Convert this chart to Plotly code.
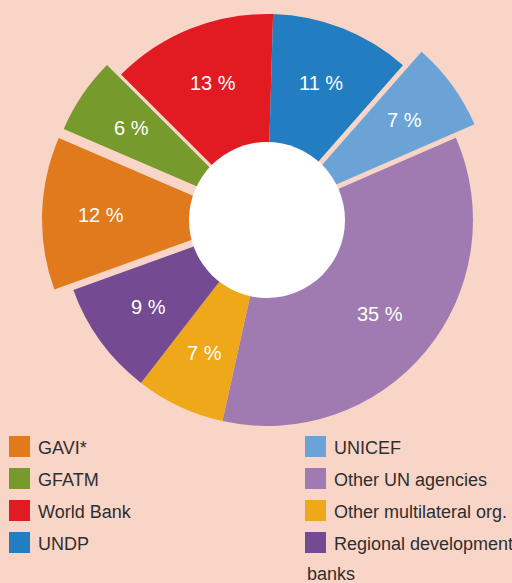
import math

import plotly.graph_objects as go

# ---------------------------------------------------------------
# data

labels = [
    "GAVI*",
    "GFATM",
    "World Bank",
    "UNDP",
    "UNICEF",
    "Other UN agencies",
    "Other multilateral org.",
    "Regional development banks",
]
shares = [12, 6, 13, 11, 7, 35, 7, 9]
colors = [
    "#e07a1c",
    "#769b2c",
    "#e21b23",
    "#237dc1",
    "#6ba3d6",
    "#a07bb1",
    "#efa81a",
    "#744a93",
]
# slices pulled out of the ring, offset in px
pulled = {"GAVI*": 19, "GFATM": 17, "UNICEF": 23}

# ---------------------------------------------------------------
# geometry / style

W, H = 512, 583
CX, CY, R = 267, 220, 206
HOLE_R = 78
START = 1.7          # UNDP starts just right of 12 o'clock
LABEL_R = 147
BG = "#f9d5c7"
FONT = "Liberation Sans, Arial, sans-serif"
CLEAR = "rgba(0,0,0,0)"

total = sum(shares)
rotation = START - 360 * sum(shares[:labels.index("UNDP")]) / total

mids = []
acc = 0
for v in shares:
    mids.append(math.radians(rotation + 360 * (acc + v / 2) / total))
    acc += v


def offset(label):
    d = pulled.get(label, 0)
    a = mids[labels.index(label)]
    return d * math.sin(a), -d * math.cos(a)


def domain(dx, dy):
    x0, x1 = (CX + dx - R) / W, (CX + dx + R) / W
    y0, y1 = 1 - (CY + dy + R) / H, 1 - (CY + dy - R) / H
    return dict(x=[max(0, x0), min(1, x1)], y=[max(0, y0), min(1, y1)])


def pie(slice_colors, dx=0, dy=0):
    return go.Pie(
        labels=labels,
        values=shares,
        sort=False,
        direction="clockwise",
        rotation=rotation,
        marker=dict(colors=slice_colors, line=dict(width=0)),
        textinfo="none",
        hoverinfo="skip",
        showlegend=False,
        domain=domain(dx, dy),
    )

# ---------------------------------------------------------------

fig = go.Figure()

# ring of slices that stay in place
fig.add_trace(pie([CLEAR if l in pulled else c for l, c in zip(labels, colors)]))

# each pulled slice drawn by its own shifted pie
for name in pulled:
    dx, dy = offset(name)
    fig.add_trace(pie([c if l == name else CLEAR for l, c in zip(labels, colors)], dx, dy))

shapes = [
    dict(
        type="circle", xref="paper", yref="paper", layer="above",
        x0=(CX - HOLE_R) / W, x1=(CX + HOLE_R) / W,
        y0=1 - (CY + HOLE_R) / H, y1=1 - (CY - HOLE_R) / H,
        fillcolor="white", line=dict(width=0),
    )
]
annotations = []

# percentage labels
for lab, v, a in zip(labels, shares, mids):
    d = LABEL_R + pulled.get(lab, 0)
    annotations.append(dict(
        x=(CX + d * math.sin(a)) / W,
        y=1 - (CY - d * math.cos(a)) / H,
        xref="paper", yref="paper",
        text=f"{v} %", showarrow=False,
        xanchor="center", yanchor="middle",
        font=dict(family=FONT, size=20, color="white"),
    ))

# legend, two columns of four
for k, (lab, col) in enumerate(zip(labels, colors)):
    sx = [9, 305][k // 4]
    sy = 436 + 32 * (k % 4)
    shapes.append(dict(
        type="rect", xref="paper", yref="paper",
        x0=sx / W, x1=(sx + 21) / W,
        y0=1 - (sy + 21) / H, y1=1 - sy / H,
        fillcolor=col, line=dict(width=0),
    ))
    lines = [lab]
    if len(lab) > 23:
        cut = lab.rfind(" ", 0, 23)
        lines = [lab[:cut], lab[cut + 1:]]
    for n, txt in enumerate(lines):
        annotations.append(dict(
            x=(sx + 27 if n == 0 else sx) / W,
            y=1 - (sy + 12 + 30 * n) / H,
            xref="paper", yref="paper",
            text=txt, showarrow=False,
            xanchor="left", yanchor="middle",
            font=dict(family=FONT, size=18, color="#2e2e2e"),
        ))

fig.update_layout(
    width=W,
    height=H,
    margin=dict(l=0, r=0, t=0, b=0),
    paper_bgcolor=BG,
    plot_bgcolor=BG,
    shapes=shapes,
    annotations=annotations,
)

# page body has a default 8px margin; drop it so the figure fills the window
fig.write_html(
    "out.html",
    config={"displayModeBar": False},
    post_script="document.body.style.margin = '0';",
)
